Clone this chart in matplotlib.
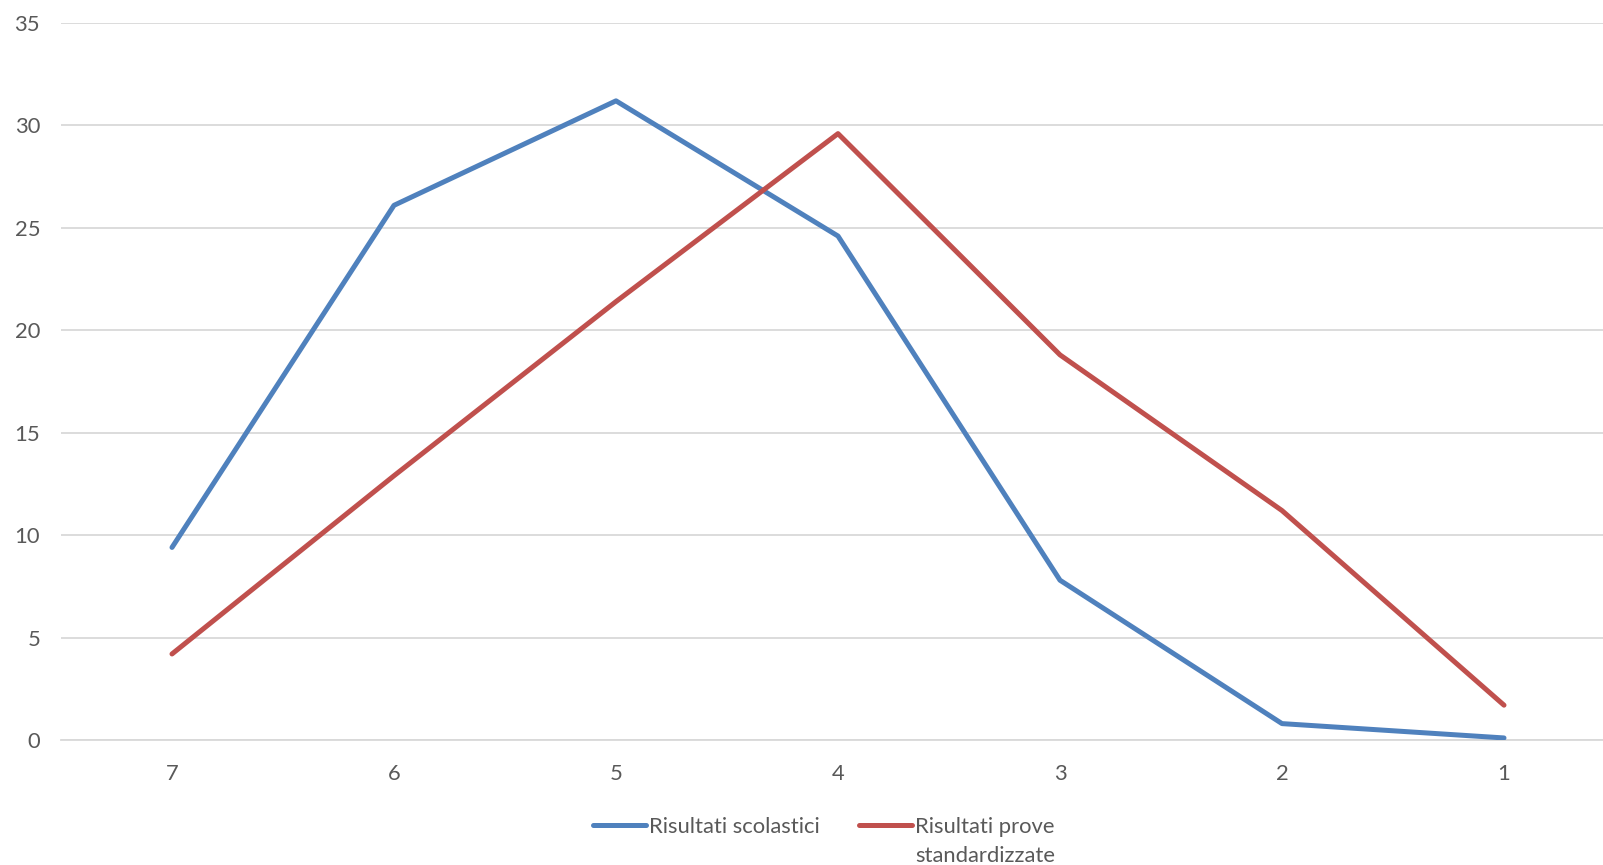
import matplotlib
matplotlib.use("Agg")
import matplotlib.pyplot as plt
from matplotlib.lines import Line2D

categories = ["7", "6", "5", "4", "3", "2", "1"]
scolastici = [9.4, 26.1, 31.2, 24.6, 7.8, 0.8, 0.1]
prove = [4.2, 12.9, 21.4, 29.6, 18.8, 11.2, 1.7]
yticks = [0, 5, 10, 15, 20, 25, 30, 35]

blue = "#4F81BD"
red = "#C0504D"
grey = "#595959"
fs = 15.8

plt.rcParams["font.family"] = ["Lato", "DejaVu Sans"]

W, H = 1603, 865
fig = plt.figure(figsize=(W / 100, H / 100), dpi=100)
# plot area runs past the right edge of the picture, as in the original
ax = fig.add_axes([61 / W, 1 - 740 / H, (1615 - 61) / W, 717 / H])

x = list(range(len(categories)))
ax.plot(x, scolastici, color=blue, lw=3.6, solid_capstyle="round", solid_joinstyle="round", zorder=3)
ax.plot(x, prove, color=red, lw=3.6, solid_capstyle="round", solid_joinstyle="round", zorder=3)

ax.set_xlim(-0.5, len(categories) - 0.5)
ax.set_ylim(0, 35)
ax.set_xticks(x)
ax.set_xticklabels(categories)
ax.set_yticks(yticks)
ax.grid(axis="y", color="#D9D9D9", lw=1.3)
ax.set_axisbelow(True)
for s in ["top", "right", "left"]:
    ax.spines[s].set_visible(False)
ax.spines["bottom"].set_color("#D9D9D9")
ax.spines["bottom"].set_linewidth(1.3)
ax.tick_params(length=0, labelsize=fs, colors=grey)
ax.tick_params(axis="y", pad=15)
ax.tick_params(axis="x", pad=17)

# legend drawn by hand so the handle sits on the first line of the wrapped label
def leg(x0, color, lines):
    fig.add_artist(Line2D([x0 / W, (x0 + 53) / W], [1 - 825 / H] * 2, color=color, lw=3.6,
                          solid_capstyle="round", transform=fig.transFigure))
    for i, t in enumerate(lines):
        fig.text((x0 + 56) / W, 1 - (827 + 29 * i) / H, t, ha="left", va="center",
                 fontsize=fs, color=grey)

leg(593, blue, ["Risultati scolastici"])
leg(859, red, ["Risultati prove", "standardizzate"])

fig.savefig("out.png", dpi=100)
